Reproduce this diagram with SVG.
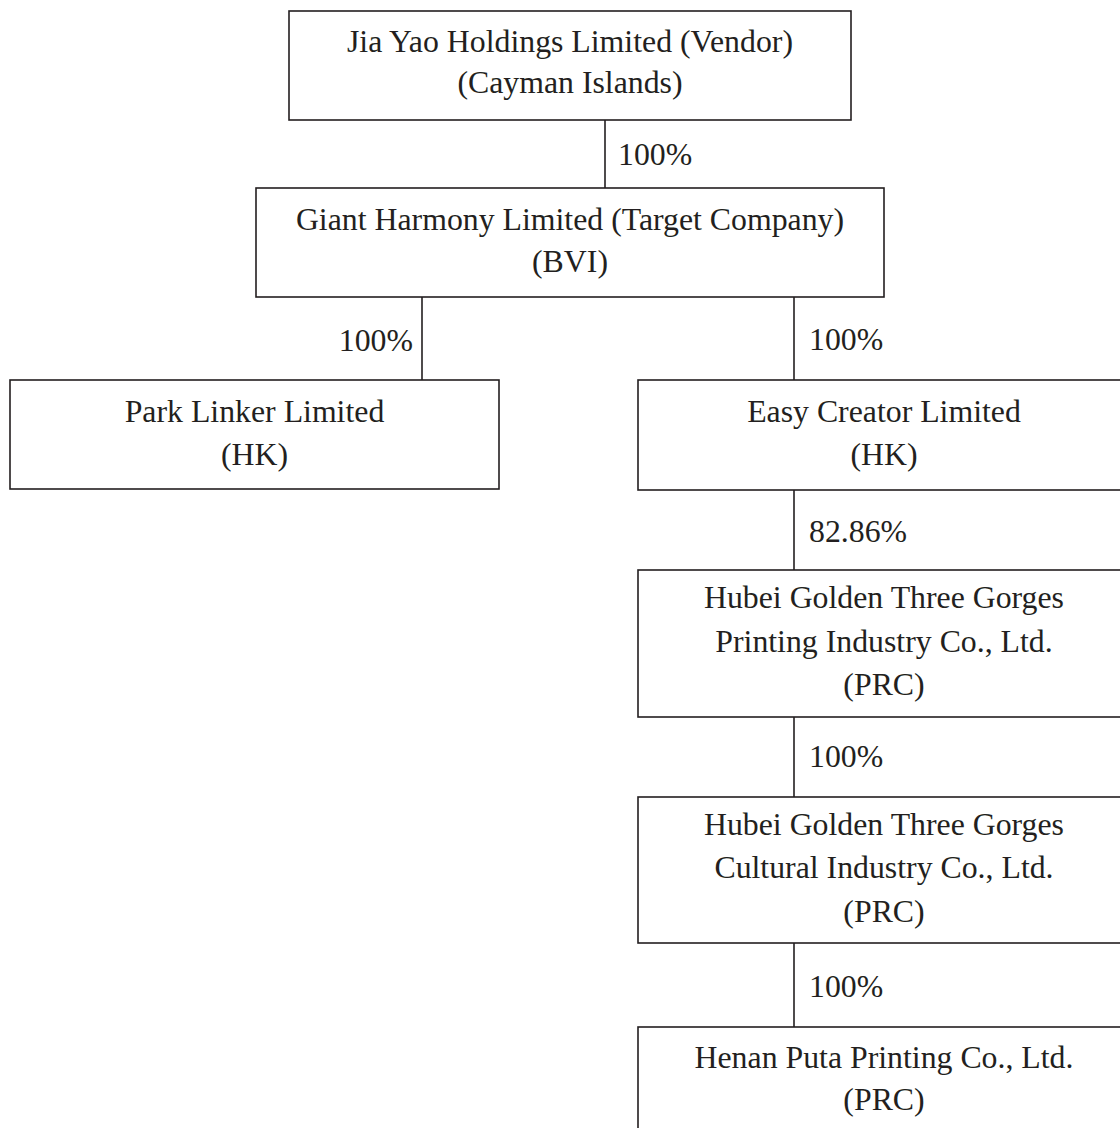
<svg xmlns="http://www.w3.org/2000/svg" width="1120" height="1128" viewBox="0 0 1120 1128">
<style>
.box{fill:#fff;stroke:#231f20;stroke-width:1.6}
.t{font-family:"Liberation Serif","Times New Roman",serif;font-size:31.8px;fill:#231f20;text-anchor:middle}
.p{font-family:"Liberation Serif","Times New Roman",serif;font-size:31.8px;fill:#231f20}
.c{stroke:#231f20;stroke-width:1.6;fill:none}
</style>
<rect width="1120" height="1128" fill="#fff"/>
<g id="connectors">
<line class="c" x1="605" y1="120" x2="605" y2="188"/>
<line class="c" x1="422" y1="297" x2="422" y2="380"/>
<line class="c" x1="794" y1="297" x2="794" y2="380"/>
<line class="c" x1="794" y1="490" x2="794" y2="570"/>
<line class="c" x1="794" y1="717" x2="794" y2="797"/>
<line class="c" x1="794" y1="943" x2="794" y2="1027"/>
<text class="p" x="618" y="165">100%</text>
<text class="p" x="413" y="351" text-anchor="end">100%</text>
<text class="p" x="809" y="350">100%</text>
<text class="p" x="809" y="542">82.86%</text>
<text class="p" x="809" y="767">100%</text>
<text class="p" x="809" y="997">100%</text>
</g>
<g id="jiayao">
<rect class="box" x="289" y="11" width="562" height="109"/>
<text class="t" x="570" y="52">Jia Yao Holdings Limited (Vendor)</text>
<text class="t" x="570" y="93">(Cayman Islands)</text>
</g>
<g id="giant">
<rect class="box" x="256" y="188" width="628" height="109"/>
<text class="t" x="570" y="230">Giant Harmony Limited (Target Company)</text>
<text class="t" x="570" y="272">(BVI)</text>
</g>
<g id="park">
<rect class="box" x="10" y="380" width="489" height="109"/>
<text class="t" x="254.5" y="422">Park Linker Limited</text>
<text class="t" x="254.5" y="465">(HK)</text>
</g>
<g id="easy">
<rect class="box" x="638" y="380" width="492" height="110"/>
<text class="t" x="884" y="422">Easy Creator Limited</text>
<text class="t" x="884" y="465">(HK)</text>
</g>
<g id="hubeiprinting">
<rect class="box" x="638" y="570" width="492" height="147"/>
<text class="t" x="884" y="608">Hubei Golden Three Gorges</text>
<text class="t" x="884" y="652">Printing Industry Co., Ltd.</text>
<text class="t" x="884" y="695">(PRC)</text>
</g>
<g id="hubeicultural">
<rect class="box" x="638" y="797" width="492" height="146"/>
<text class="t" x="884" y="835">Hubei Golden Three Gorges</text>
<text class="t" x="884" y="878">Cultural Industry Co., Ltd.</text>
<text class="t" x="884" y="922">(PRC)</text>
</g>
<g id="henan">
<rect class="box" x="638" y="1027" width="492" height="120"/>
<text class="t" x="884" y="1068">Henan Puta Printing Co., Ltd.</text>
<text class="t" x="884" y="1110">(PRC)</text>
</g>
</svg>
